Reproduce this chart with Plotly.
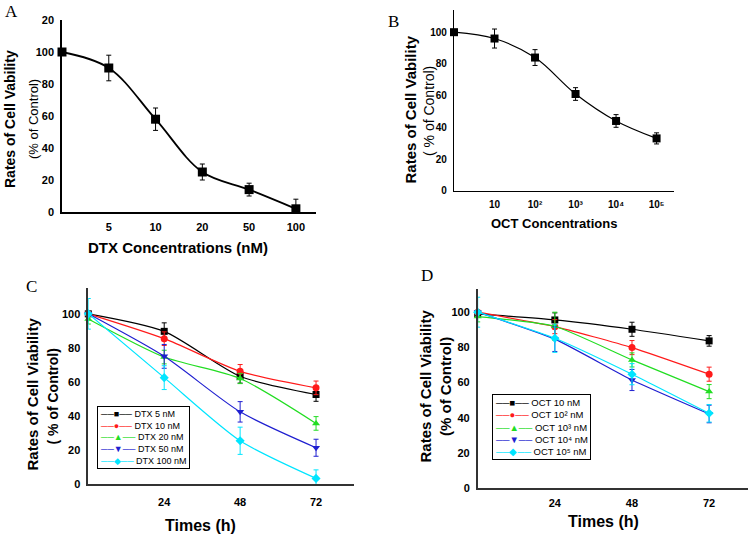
import plotly.graph_objects as go

W, H = 753, 537

# ---------------- data ----------------
A_pos = [0, 1, 2, 3, 4, 5]
A_ticklabels = ["5", "10", "20", "50", "100"]
A_vals = [100, 90, 58, 25, 14, 2]
A_err = [0, 8, 7, 5, 4, 6]

B_pos = [0, 1, 2, 3, 4, 5]
B_ticklabels = ["10", "10²", "10³", "10⁴", "10⁵"]
B_vals = [100, 96, 84, 61, 44, 33]
B_err = [0, 6, 5, 4, 4, 3.5]

times = [0, 24, 48, 72]

C_names = ["DTX 5 nM", "DTX 10 nM", "DTX 20 nM", "DTX 50 nM", "DTX 100 nM"]
C_vals = [
    [100, 89.7, 63.3, 52.6],
    [100, 85.4, 66.2, 56.5],
    [97, 74.6, 62, 35.6],
    [100, 75, 42.4, 21.3],
    [100, 62.5, 25.4, 3.3],
]
C_err = [
    [0, 5, 4, 4],
    [0, 4, 4, 4],
    [3, 4, 3, 4],
    [0, 7, 6, 5],
    [9, 7, 8, 5],
]

D_names = ["OCT 10 nM", "OCT 10² nM", "OCT 10³ nM", "OCT 10⁴ nM", "OCT 10⁵ nM"]
D_vals = [
    [99, 95.6, 90.3, 83.7],
    [100, 91.8, 79.9, 64.8],
    [97.5, 92, 72.9, 54.9],
    [100, 84.7, 61.5, 42.2],
    [100, 85.2, 64.8, 42.6],
]
D_err = [
    [0, 4, 4, 3],
    [0, 4, 4, 4],
    [3, 8, 4, 4],
    [0, 7, 6, 5],
    [8.5, 8, 6, 5],
]

# ---------------- styles ----------------
colors = ["#000000", "#ff1a1a", "#22dd22", "#1f1fd0", "#00e5ff"]
symbols = ["square", "circle", "triangle-up", "triangle-down", "diamond"]
glyphs = ["■", "●", "▲", "▼", "◆"]
FONT = "Liberation Sans, Arial, sans-serif"
SERIF = "Liberation Serif, Times New Roman, serif"


def px_dom_x(a, b):
    return [a / W, b / W]


def px_dom_y(bottom, top):
    return [1 - bottom / H, 1 - top / H]


fig = go.Figure()

# Panel A
fig.add_trace(go.Scatter(
    x=A_pos, y=A_vals, mode="lines+markers",
    line=dict(color="black", width=1.8, shape="spline", smoothing=1.0),
    marker=dict(symbol="square", size=9, color="black"),
    error_y=dict(type="data", array=A_err, color="black", thickness=1, width=2.5),
    cliponaxis=False, showlegend=False, xaxis="x", yaxis="y"))

# Panel B
fig.add_trace(go.Scatter(
    x=B_pos, y=B_vals, mode="lines+markers",
    line=dict(color="black", width=1.2, shape="spline", smoothing=1.0),
    marker=dict(symbol="square", size=8, color="black"),
    error_y=dict(type="data", array=B_err, color="black", thickness=1, width=2.5),
    cliponaxis=False, showlegend=False, xaxis="x2", yaxis="y2"))

# Panel C
for i in range(5):
    fig.add_trace(go.Scatter(
        x=times, y=C_vals[i], mode="lines+markers", name=C_names[i],
        line=dict(color=colors[i], width=1.2, shape="spline", smoothing=0.7),
        marker=dict(symbol=symbols[i], size=7, color=colors[i]),
        error_y=dict(type="data", array=C_err[i], color=colors[i], thickness=1, width=2.5),
        cliponaxis=False, showlegend=False, xaxis="x3", yaxis="y3"))

# Panel D
for i in range(5):
    fig.add_trace(go.Scatter(
        x=times, y=D_vals[i], mode="lines+markers", name=D_names[i],
        line=dict(color=colors[i], width=1.2, shape="spline", smoothing=0.5),
        marker=dict(symbol=symbols[i], size=7, color=colors[i]),
        error_y=dict(type="data", array=D_err[i], color=colors[i], thickness=1, width=2.5),
        cliponaxis=False, showlegend=False, xaxis="x4", yaxis="y4"))

tickfont = dict(family=FONT, size=11, color="black", weight=700)
axis_common = dict(showline=True, linecolor="black", linewidth=1.5, showgrid=False,
                   zeroline=False, ticks="", tickfont=tickfont, ticklabelstandoff=4,
                   fixedrange=True)

layout = dict(
    width=W, height=H, margin=dict(l=0, r=0, t=0, b=0, autoexpand=False),
    paper_bgcolor="white", plot_bgcolor="white", showlegend=False,
    xaxis=dict(axis_common, domain=px_dom_x(62, 316), range=[0, 5.43],
               tickvals=A_pos[1:], ticktext=A_ticklabels, anchor="y"),
    yaxis=dict(axis_common, domain=px_dom_y(212, 20), range=[0, 120],
               tickvals=[0, 20, 40, 60, 80, 100, 120],
               ticktext=["0", "20", "40", "60", "80", "100", "20"], anchor="x"),
    xaxis2=dict(axis_common, domain=px_dom_x(454, 674), range=[0, 5.43],
                tickvals=B_pos[1:], ticktext=B_ticklabels, anchor="y2",
                linewidth=1.2, tickfont=dict(tickfont, size=10)),
    yaxis2=dict(axis_common, domain=px_dom_y(190.7, 10), range=[0, 114],
                tickvals=[0, 20, 40, 60, 80, 100], anchor="x2",
                linewidth=1.2, tickfont=dict(tickfont, size=10)),
    xaxis3=dict(axis_common, domain=px_dom_x(88.3, 354), range=[0, 84],
                tickvals=[24, 48, 72], anchor="y3", ticklabelstandoff=7,
                linecolor="#333333"),
    yaxis3=dict(axis_common, domain=px_dom_y(484, 288.3), range=[0, 115],
                tickvals=[0, 20, 40, 60, 80, 100], anchor="x3", linecolor="#333333"),
    xaxis4=dict(axis_common, domain=px_dom_x(477.7, 747.7), range=[0, 84],
                tickvals=[24, 48, 72], anchor="y4", linecolor="#333333"),
    yaxis4=dict(axis_common, domain=px_dom_y(488.3, 289.3), range=[0, 113],
                tickvals=[0, 20, 40, 60, 80, 100], anchor="x4", linecolor="#333333"),
)
fig.update_layout(**layout)


def ann(text, xpx, ypx, size, bold=False, angle=0, family=FONT):
    fig.add_annotation(
        text=f"<b>{text}</b>" if bold else text,
        x=xpx / W, y=1 - ypx / H, xref="paper", yref="paper",
        showarrow=False, textangle=angle, xanchor="center", yanchor="middle",
        font=dict(family=family, size=size, color="black"))


# panel letters
ann("A", 11.5, 11, 17, family=SERIF)
ann("B", 393.5, 21, 17, family=SERIF)
ann("C", 32, 286, 17, family=SERIF)
ann("D", 427, 275.5, 17, family=SERIF)

# y titles
ann("Rates of Cell Vability", 10, 119, 14, bold=True, angle=-90)
ann("(% of Control)", 33, 119, 13, angle=-90)
ann("Rates of Cell Vability", 410.5, 109, 15, bold=True, angle=-90)
ann("( % of Control)", 429, 111, 14, angle=-90)
ann("Rates of Cell Viability", 31.5, 394, 15, bold=True, angle=-90)
ann("( % of Control)", 52.5, 396, 14, bold=True, angle=-90)
ann("Rates of Cell Viability", 424.5, 386, 15, bold=True, angle=-90)
ann("(% of Control)", 445, 387, 15, bold=True, angle=-90)

# x titles
ann("DTX Concentrations (nM)", 177.5, 248, 15, bold=True)
ann("OCT Concentrations", 554, 223, 13, bold=True)
ann("Times (h)", 200.5, 525, 16, bold=True)
ann("Times (h)", 603, 521.7, 16, bold=True)


# legends (text boxes built from series names / colours)
def legend_text(names):
    rows = []
    for n, c, g in zip(names, colors, glyphs):
        rows.append(f'<span style="color:{c}">──{g}──</span> {n}')
    return "<br>".join(rows)


fig.add_annotation(
    text=legend_text(C_names), x=96.7 / W, y=1 - 405.7 / H, xref="paper", yref="paper",
    xanchor="left", yanchor="top", align="left", showarrow=False,
    font=dict(family=FONT, size=9, color="black"),
    bordercolor="black", borderwidth=1, borderpad=2, bgcolor="white")
fig.add_annotation(
    text=legend_text(D_names), x=492 / W, y=1 - 394 / H, xref="paper", yref="paper",
    xanchor="left", yanchor="top", align="left", showarrow=False,
    font=dict(family=FONT, size=9.5, color="black"),
    bordercolor="black", borderwidth=1, borderpad=2, bgcolor="white")

fig.write_html("out.html", config={"displayModeBar": False},
               post_script="document.body.style.margin='0px';document.body.style.overflow='hidden';")
